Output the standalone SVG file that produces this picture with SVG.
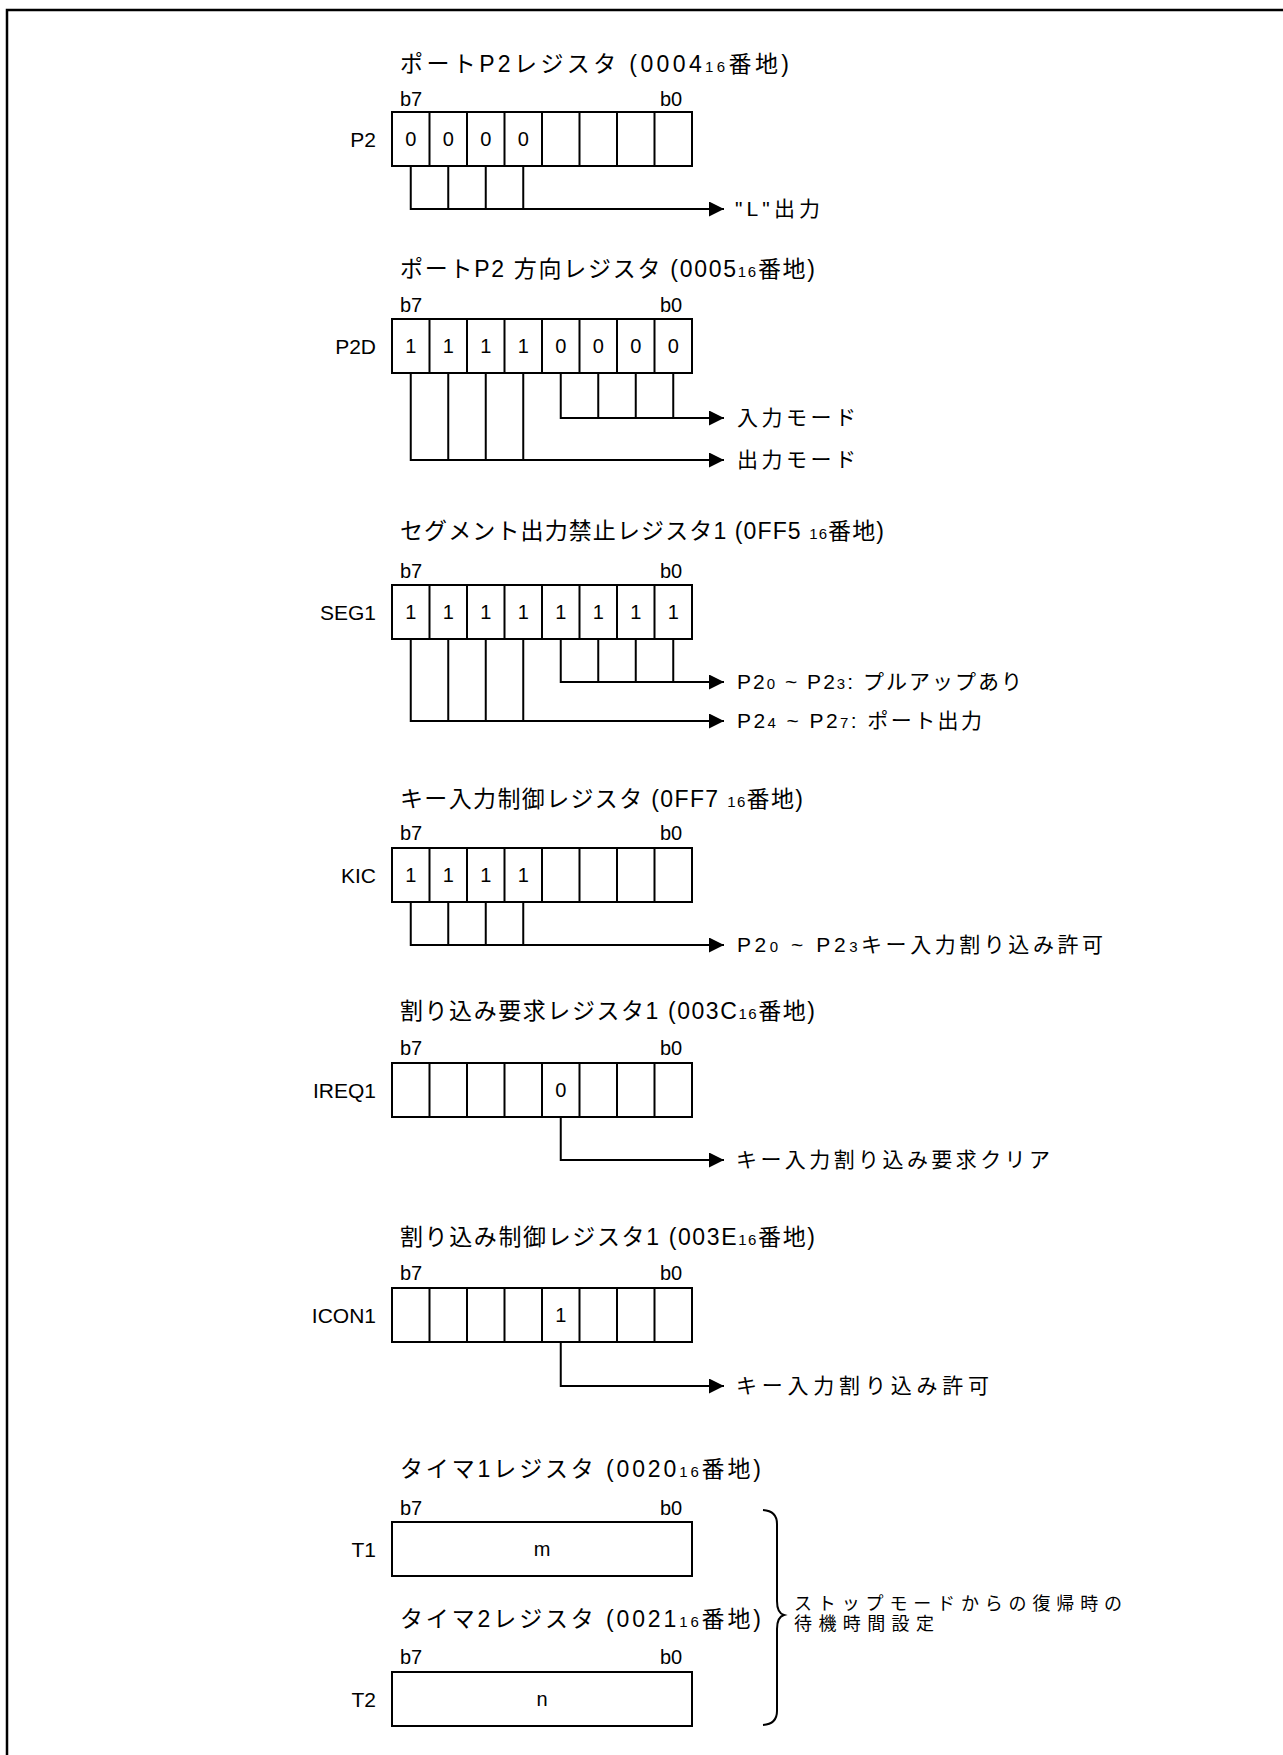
<svg xmlns="http://www.w3.org/2000/svg" width="1283" height="1755" viewBox="0 0 1283 1755">
<style>
.t{font-family:"Liberation Sans","Noto Sans CJK JP",sans-serif;fill:#000}
.ti{font-size:23px}
.lb{font-size:21px}
.bl{font-size:20px}
.bit{font-size:20px;text-anchor:middle}
.reg{font-size:21px;text-anchor:end}
.sm{font-size:15px}
.box{fill:#fff;stroke:#000;stroke-width:2}
.dv{stroke:#000;stroke-width:2}
.ln{fill:none;stroke:#000;stroke-width:2}
.ar{fill:none;stroke:#000;stroke-width:2;marker-end:url(#ah)}
</style>
<defs>
<marker id="ah" markerUnits="userSpaceOnUse" markerWidth="16" markerHeight="16" refX="15" refY="7.5" orient="auto">
<path d="M0,0 L15,7.5 L0,15 z" fill="#000"/>
</marker>
<g id="cells8">
<rect class="box" x="392" y="0" width="300" height="54"/>
<path class="dv" d="M429.5,0V54M467,0V54M504.5,0V54M542,0V54M579.5,0V54M617,0V54M654.5,0V54"/>
</g>
</defs>
<rect width="1283" height="1755" fill="#fff"/>
<path d="M7,1760V10H1290" fill="none" stroke="#000" stroke-width="2.5"/>

<g id="reg-p2">
<text class="t ti" x="400" y="72" textLength="389" lengthAdjust="spacing">ポートP2レジスタ (0004<tspan class="sm">16</tspan>番地)</text>
<text class="t bl" x="400" y="106">b7</text>
<text class="t bl" x="660" y="106">b0</text>
<text class="t reg" x="376" y="147">P2</text>
<use href="#cells8" y="112"/>
<text class="t bit" x="410.75" y="146">0</text>
<text class="t bit" x="448.25" y="146">0</text>
<text class="t bit" x="485.75" y="146">0</text>
<text class="t bit" x="523.25" y="146">0</text>
<text class="t lb" x="735" y="216" textLength="85" lengthAdjust="spacing">"L"出力</text>
</g>

<g id="reg-p2d">
<text class="t ti" x="400" y="277" textLength="415" lengthAdjust="spacing">ポートP2 方向レジスタ (0005<tspan class="sm">16</tspan>番地)</text>
<text class="t bl" x="400" y="312">b7</text>
<text class="t bl" x="660" y="312">b0</text>
<text class="t reg" x="376" y="354">P2D</text>
<use href="#cells8" y="319"/>
<text class="t bit" x="410.75" y="353">1</text>
<text class="t bit" x="448.25" y="353">1</text>
<text class="t bit" x="485.75" y="353">1</text>
<text class="t bit" x="523.25" y="353">1</text>
<text class="t bit" x="560.75" y="353">0</text>
<text class="t bit" x="598.25" y="353">0</text>
<text class="t bit" x="635.75" y="353">0</text>
<text class="t bit" x="673.25" y="353">0</text>
<text class="t lb" x="737" y="425" textLength="119" lengthAdjust="spacing">入力モード</text>
<text class="t lb" x="737" y="467" textLength="119" lengthAdjust="spacing">出力モード</text>
</g>

<g id="reg-seg1">
<text class="t ti" x="400" y="539" textLength="484" lengthAdjust="spacing">セグメント出力禁止レジスタ1 (0FF5 <tspan class="sm">16</tspan>番地)</text>
<text class="t bl" x="400" y="578">b7</text>
<text class="t bl" x="660" y="578">b0</text>
<text class="t reg" x="376" y="620">SEG1</text>
<use href="#cells8" y="585"/>
<text class="t bit" x="410.75" y="619">1</text>
<text class="t bit" x="448.25" y="619">1</text>
<text class="t bit" x="485.75" y="619">1</text>
<text class="t bit" x="523.25" y="619">1</text>
<text class="t bit" x="560.75" y="619">1</text>
<text class="t bit" x="598.25" y="619">1</text>
<text class="t bit" x="635.75" y="619">1</text>
<text class="t bit" x="673.25" y="619">1</text>
<text class="t lb" x="737" y="689" textLength="285" lengthAdjust="spacing">P2<tspan class="sm">0</tspan> ~ P2<tspan class="sm">3</tspan>: プルアップあり</text>
<text class="t lb" x="737" y="728" textLength="245" lengthAdjust="spacing">P2<tspan class="sm">4</tspan> ~ P2<tspan class="sm">7</tspan>: ポート出力</text>
</g>

<g id="reg-kic">
<text class="t ti" x="400" y="807" textLength="403" lengthAdjust="spacing">キー入力制御レジスタ (0FF7 <tspan class="sm">16</tspan>番地)</text>
<text class="t bl" x="400" y="840">b7</text>
<text class="t bl" x="660" y="840">b0</text>
<text class="t reg" x="376" y="883">KIC</text>
<use href="#cells8" y="848"/>
<text class="t bit" x="410.75" y="882">1</text>
<text class="t bit" x="448.25" y="882">1</text>
<text class="t bit" x="485.75" y="882">1</text>
<text class="t bit" x="523.25" y="882">1</text>
<text class="t lb" x="737" y="952" textLength="366" lengthAdjust="spacing">P2<tspan class="sm">0</tspan> ~ P2<tspan class="sm">3</tspan>キー入力割り込み許可</text>
</g>

<g id="reg-ireq1">
<text class="t ti" x="400" y="1019" textLength="415" lengthAdjust="spacing">割り込み要求レジスタ1 (003C<tspan class="sm">16</tspan>番地)</text>
<text class="t bl" x="400" y="1055">b7</text>
<text class="t bl" x="660" y="1055">b0</text>
<text class="t reg" x="376" y="1098">IREQ1</text>
<use href="#cells8" y="1063"/>
<text class="t bit" x="560.75" y="1097">0</text>
<text class="t lb" x="736" y="1167" textLength="314" lengthAdjust="spacing">キー入力割り込み要求クリア</text>
</g>

<g id="reg-icon1">
<text class="t ti" x="400" y="1245" textLength="415" lengthAdjust="spacing">割り込み制御レジスタ1 (003E<tspan class="sm">16</tspan>番地)</text>
<text class="t bl" x="400" y="1280">b7</text>
<text class="t bl" x="660" y="1280">b0</text>
<text class="t reg" x="376" y="1323">ICON1</text>
<use href="#cells8" y="1288"/>
<text class="t bit" x="560.75" y="1322">1</text>
<text class="t lb" x="736" y="1393" textLength="253" lengthAdjust="spacing">キー入力割り込み許可</text>
</g>

<g id="reg-t1">
<text class="t ti" x="400" y="1477" textLength="361" lengthAdjust="spacing">タイマ1レジスタ (0020<tspan class="sm">16</tspan>番地)</text>
<text class="t bl" x="400" y="1515">b7</text>
<text class="t bl" x="660" y="1515">b0</text>
<text class="t reg" x="376" y="1557">T1</text>
<rect class="box" x="392" y="1522" width="300" height="54"/>
<text class="t bit" x="542" y="1556">m</text>
</g>

<g id="reg-t2">
<text class="t ti" x="400" y="1627" textLength="361" lengthAdjust="spacing">タイマ2レジスタ (0021<tspan class="sm">16</tspan>番地)</text>
<text class="t bl" x="400" y="1664">b7</text>
<text class="t bl" x="660" y="1664">b0</text>
<text class="t reg" x="376" y="1707">T2</text>
<rect class="box" x="392" y="1672" width="300" height="54"/>
<text class="t bit" x="542" y="1706">n</text>
</g>

<g id="note-wait">
<path class="ln" d="M763,1510Q777,1511 777,1524V1601Q777,1613 784,1615Q777,1617 777,1629V1711Q777,1724 763,1725"/>
<text class="t" x="794" y="1610" font-size="18" textLength="328" lengthAdjust="spacing">ストップモードからの復帰時の</text>
<text class="t" x="794" y="1630" font-size="18" textLength="140" lengthAdjust="spacing">待機時間設定</text>
</g>

<g id="connectors">
<path class="ar" d="M410.75,166V209H724"/>
<path class="ln" d="M448.25,166V209M485.75,166V209M523.25,166V209"/>
<path class="ar" d="M560.75,373V418H724"/>
<path class="ln" d="M598.25,373V418M635.75,373V418M673.25,373V418"/>
<path class="ar" d="M410.75,373V460H724"/>
<path class="ln" d="M448.25,373V460M485.75,373V460M523.25,373V460"/>
<path class="ar" d="M560.75,639V682H724"/>
<path class="ln" d="M598.25,639V682M635.75,639V682M673.25,639V682"/>
<path class="ar" d="M410.75,639V721H724"/>
<path class="ln" d="M448.25,639V721M485.75,639V721M523.25,639V721"/>
<path class="ar" d="M410.75,902V945H724"/>
<path class="ln" d="M448.25,902V945M485.75,902V945M523.25,902V945"/>
<path class="ar" d="M560.75,1117V1160H724"/>
<path class="ar" d="M560.75,1342V1386H724"/>
</g>
</svg>
